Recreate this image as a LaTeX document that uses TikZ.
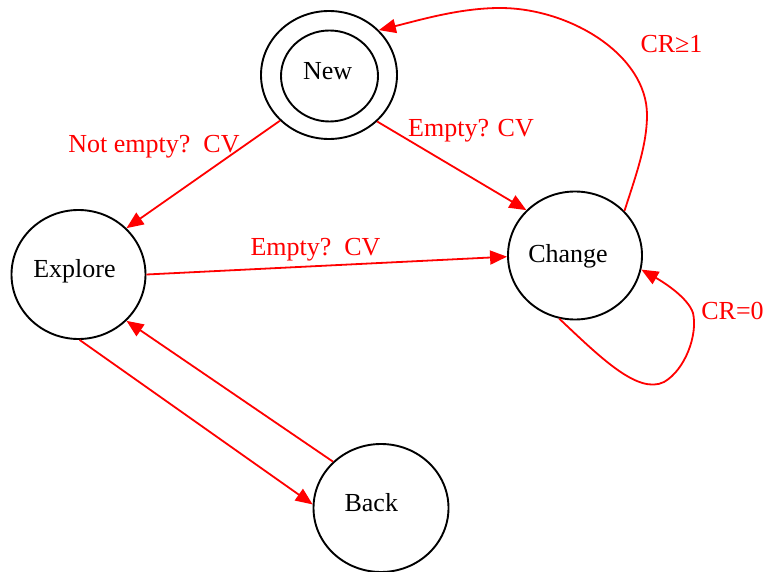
\documentclass[tikz,border=0pt]{standalone}
\usepackage{fontspec}
\setmainfont{Liberation Serif}
\usetikzlibrary{arrows.meta,shapes.geometric}
\begin{document}
\begin{tikzpicture}[x=1pt,y=-1pt,
  every node/.style={font=\fontsize{26pt}{30pt}\selectfont},
  state/.style={ellipse, draw=black, line width=1.9pt, inner sep=0pt},
  tr/.style={draw=red, line width=1.8pt, -{Triangle[length=17pt,width=14pt]}},
  elab/.style={text=red, anchor=base, inner sep=0pt},
  slab/.style={text=black, inner sep=0pt}]
\useasboundingbox (0,0) rectangle (766,572);
% states
\node[state, minimum width=136pt, minimum height=128pt] (new) at (329,75) {};
\node[state, minimum width=97pt, minimum height=91pt,
      label={[slab, shift={(-1.8pt,4.6pt)}]center:New}] (newin) at (329.5,76) {};
\node[state, minimum width=134pt, minimum height=129pt,
      label={[slab, shift={(-4pt,2.8pt)}]center:Explore}] (explore) at (78.5,274.5) {};
\node[state, minimum width=134pt, minimum height=128pt,
      label={[slab, shift={(-7pt,-0.4pt)}]center:Change}] (change) at (575,255.5) {};
\node[state, minimum width=135pt, minimum height=128pt,
      label={[slab, shift={(-9.7pt,4.9pt)}]center:Back}] (back) at (381,508) {};
% transitions
\draw[tr] (new.223.8) -- (explore.44.4);
\draw[tr] (new.316.2) -- (change.137.2);
\draw[tr] (explore.0) -- (change.181.5);
\draw[tr] (explore.271.5) -- (back.177.5);
\draw[tr] (back.136.8) -- (explore.316.8);
\draw[tr] (change.42.2) .. controls (636,175) and (647,145) .. (647,115)
  .. controls (647,55) and (570,8) .. (500,8)
  .. controls (460,8) and (420,20) .. (new.42.6);
\draw[tr] (change.256.8) .. controls (600,357) and (638,395) .. (664,382)
  .. controls (685,370) and (698,335) .. (693,313)
  .. controls (688,298) and (665,283) .. (change.348.8);
% labels
\node[elab] (l1) at (154,152.5) {Not empty?\ \ CV};
\node[elab] (l2) at (471,137) {Empty? CV};
\node[elab] (l3) at (315.5,256) {Empty?\ \ CV};
\node[elab] (l4) at (671.5,53) {CR≥1};
\node[elab] (l5) at (732.5,319) {CR=0};
\end{tikzpicture}
\end{document}
